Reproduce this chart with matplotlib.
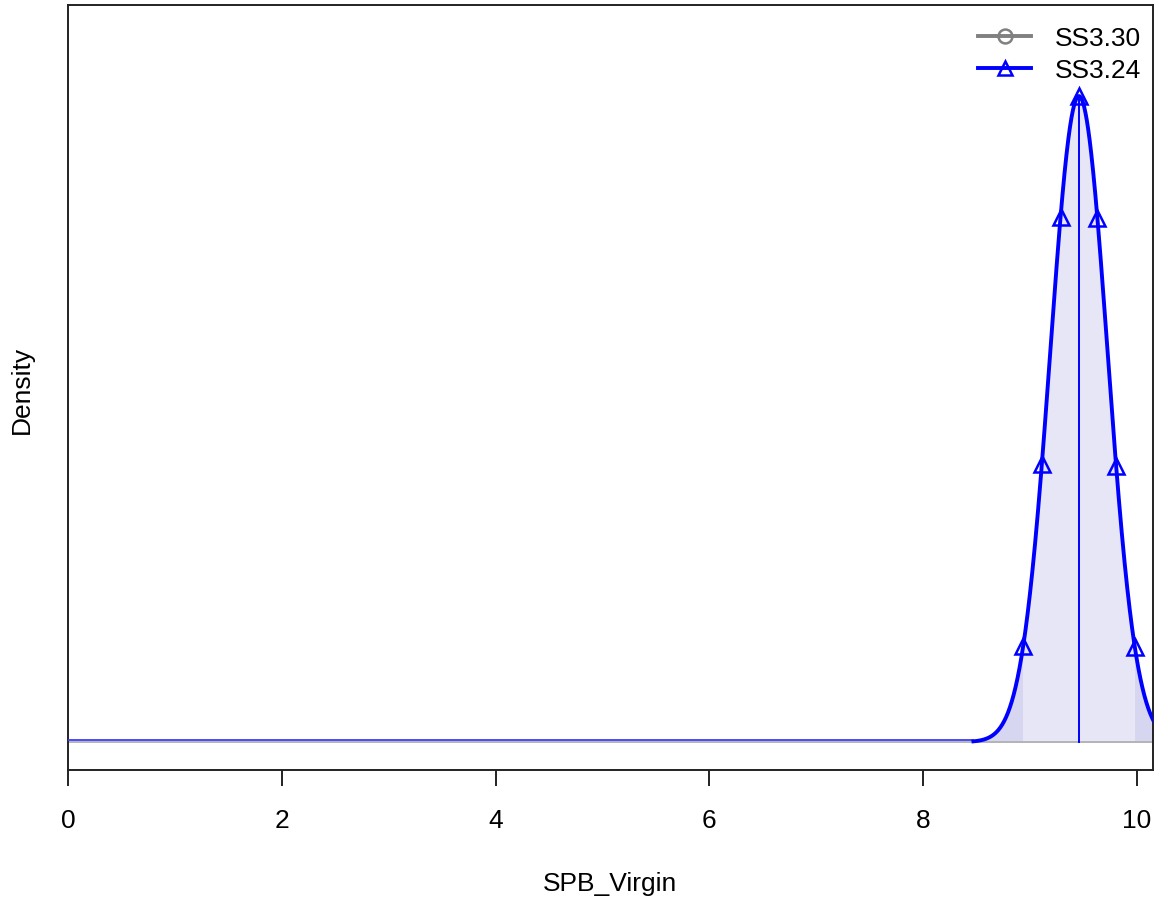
import numpy as np
import matplotlib
matplotlib.use("Agg")
import matplotlib.pyplot as plt
from matplotlib.lines import Line2D

plt.rcParams['font.family'] = ['Liberation Sans', 'DejaVu Sans']

# estimate of SPB_Virgin (SS3.24): mean and standard deviation
model_names = ['SS3.30', 'SS3.24']
model_colors = ['gray', 'blue']
model_markers = ['o', '^']
spb_mean = 9.457
spb_sd = 0.267
curve_start = 8.47          # where the drawn density curve begins
ci_low, ci_high = 8.935, 9.98   # 95% interval
marker_x = [8.935, 9.11, 9.285, 9.457, 9.63, 9.805, 9.98]
xticks = [0, 2, 4, 6, 8, 10]


def dens(x):
    return np.exp(-0.5 * ((np.asarray(x) - spb_mean) / spb_sd) ** 2) / (spb_sd * np.sqrt(2 * np.pi))


fig = plt.figure(figsize=(11.59, 9.03), dpi=100)
ax = fig.add_axes([68 / 1159, 1 - 771 / 903, (1153 - 68) / 1159, (771 - 6) / 903])

xmax = 10.15
peak = dens(spb_mean)
ax.set_xlim(0, xmax)
ax.set_ylim(-0.0433 * peak, 1.141 * peak)

xx = np.linspace(curve_start, xmax + 0.1, 600)
yy = dens(xx)

# shading: whole area lighter, tails beyond the interval darker
ax.fill_between(xx, 0, yy, color='#e6e6f7', lw=0, zorder=1)
ax.fill_between(xx, 0, yy, where=(xx <= ci_low) | (xx >= ci_high),
                color='#d6d6f0', lw=0, zorder=1.5, interpolate=True)

ax.axhline(0, color='#b4b4b4', lw=1.4, zorder=2)
ax.plot([0, curve_start], [0.003 * peak, 0.003 * peak], color='#3c3cff', lw=1.3, zorder=3)
ax.plot([spb_mean, spb_mean], [0, peak], color='blue', lw=1.4, zorder=3)
ax.plot(xx, yy, color='blue', lw=2.8, zorder=4)
ax.plot(marker_x, dens(marker_x), ls='none', marker='^', ms=12, mfc='none',
        mec='blue', mew=1.8, zorder=5)

ax.set_xticks(xticks)
ax.set_xticklabels([str(t) for t in xticks])
ax.set_yticks([])
ax.tick_params(axis='x', length=11.5, width=1.4, pad=16, labelsize=19, color='#222222')
for s in ax.spines.values():
    s.set_linewidth(1.4)
    s.set_color('#222222')

fig.text(22 / 1159, 1 - 390 / 903, 'Density', rotation=90, ha='center', va='center', fontsize=19)
fig.text(610 / 1159, 1 - 884 / 903, 'SPB_Virgin', ha='center', va='center', fontsize=19)

handles = [Line2D([], [], color=c, marker=m, mfc='none', mew=1.8, ms=10, lw=2.8)
           for c, m in zip(model_colors, model_markers)]
ax.legend(handles, model_names, loc='upper right', frameon=False, fontsize=19,
          bbox_to_anchor=(1141 / 1159, 1 - 27 / 903), bbox_transform=fig.transFigure,
          borderaxespad=0, borderpad=0, handlelength=2.0, handletextpad=0.9,
          labelspacing=0.3)

fig.savefig('out.png', dpi=100)
